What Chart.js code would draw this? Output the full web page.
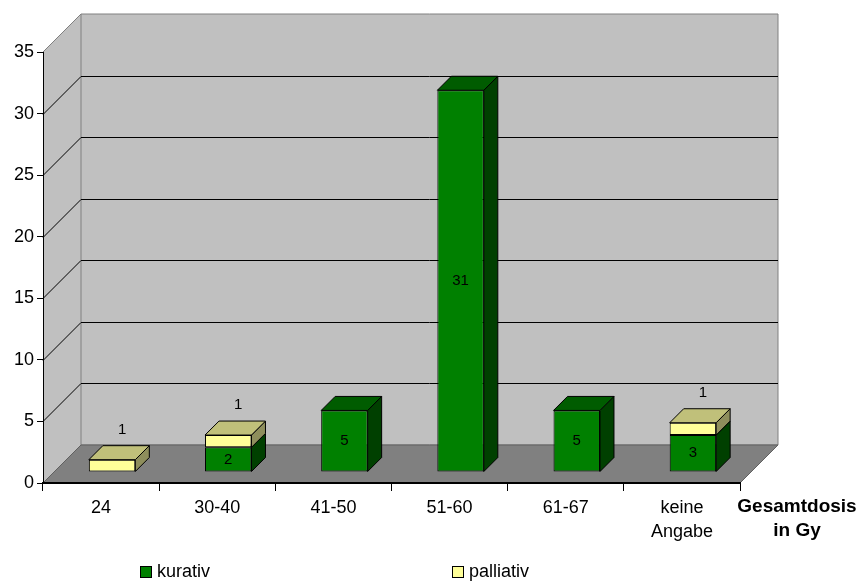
<!DOCTYPE html>
<html>
<head>
<meta charset="utf-8">
<script src="https://cdn.jsdelivr.net/npm/chart.js@4/dist/chart.umd.min.js"></script>
<style>
  html, body { margin: 0; padding: 0; background: #fff; }
  #box { width: 858px; height: 585px; }
</style>
</head>
<body>
<div id="box"><canvas id="dosisChart" width="858" height="585"></canvas></div>
<script>
var categories = ['24', '30-40', '41-50', '51-60', '61-67', ['keine', 'Angabe']];
var kurativ = [0, 2, 5, 31, 5, 3];
var palliativ = [1, 1, 0, 0, 0, 1];
var seriesNames = ['kurativ', 'palliativ'];
var yTicks = [0, 5, 10, 15, 20, 25, 30, 35];
var axisTitle = ['Gesamtdosis', 'in Gy'];

var FONT = '"Liberation Sans", Arial, sans-serif';
var WALL = 38;      // depth of the back wall
var SHIFT = 11;     // bars stand a bit behind the front edge
var BAR = 14;       // depth of a bar

var faceColors = [
  { front: '#008000', top: '#005c00', side: '#004000' },
  { front: '#ffff99', top: '#c0c07a', side: '#8e8e5c' }
];

function poly(ctx, pts, fill, stroke) {
  ctx.beginPath();
  ctx.moveTo(pts[0][0], pts[0][1]);
  for (var i = 1; i < pts.length; i++) ctx.lineTo(pts[i][0], pts[i][1]);
  ctx.closePath();
  if (fill) { ctx.fillStyle = fill; ctx.fill(); }
  if (stroke) { ctx.strokeStyle = stroke; ctx.stroke(); }
}

function line(ctx, x1, y1, x2, y2, color) {
  ctx.beginPath();
  ctx.moveTo(x1, y1);
  ctx.lineTo(x2, y2);
  ctx.strokeStyle = color;
  ctx.stroke();
}

var walls = {
  id: 'walls',
  beforeDraw: function(chart) {
    var ctx = chart.ctx, a = chart.chartArea, y = chart.scales.y;
    var top = y.getPixelForValue(yTicks[yTicks.length - 1]);
    var bot = y.getPixelForValue(0);
    ctx.save();
    ctx.lineWidth = 1;
    // side wall + back wall
    poly(ctx, [[a.left, top], [a.left + WALL, top - WALL], [a.left + WALL, bot - WALL], [a.left, bot]], '#c0c0c0');
    poly(ctx, [[a.left + WALL, top - WALL], [a.right + WALL, top - WALL], [a.right + WALL, bot - WALL], [a.left + WALL, bot - WALL]], '#c0c0c0', '#808080');
    // floor
    poly(ctx, [[a.left, bot], [a.right, bot], [a.right + WALL, bot - WALL], [a.left + WALL, bot - WALL]], '#808080', '#606060');
    line(ctx, a.left, top, a.left + WALL, top - WALL, '#808080');
    yTicks.forEach(function(v) {
      if (v === 0 || v === yTicks[yTicks.length - 1]) return;
      var p = Math.round(y.getPixelForValue(v)) + 0.5;
      line(ctx, a.left, p, a.left + WALL, p - WALL, '#000');
      line(ctx, a.left + WALL, p - WALL, a.right + WALL, p - WALL, '#000');
    });
    ctx.restore();
  },
  beforeDatasetsDraw: function(chart) {
    chart.ctx.save();
    chart.ctx.translate(SHIFT, -SHIFT);
  },
  afterDatasetsDraw: function(chart) {
    var ctx = chart.ctx;
    ctx.lineWidth = 1;
    var metas = [chart.getDatasetMeta(0), chart.getDatasetMeta(1)];
    var values = [kurativ, palliativ];
    for (var i = 0; i < categories.length; i++) {
      var topIdx = -1;
      for (var d = 0; d < 2; d++) if (values[d][i] > 0) topIdx = d;
      for (var d = 0; d < 2; d++) {
        if (!(values[d][i] > 0)) continue;
        var el = metas[d].data[i];
        var l = el.x - el.width / 2, r = el.x + el.width / 2;
        var t = el.y, b = el.base;
        poly(ctx, [[r, t], [r + BAR, t - BAR], [r + BAR, b - BAR], [r, b]], faceColors[d].side, '#000');
        if (d === topIdx) {
          poly(ctx, [[l, t], [l + BAR, t - BAR], [r + BAR, t - BAR], [r, t]], faceColors[d].top, '#000');
        }
        // value labels
        ctx.fillStyle = '#000';
        ctx.font = '15px ' + FONT;
        ctx.textAlign = 'center';
        ctx.textBaseline = 'middle';
        if (d === 0) {
          ctx.fillText(String(values[d][i]), el.x, (t + b) / 2);
        } else {
          ctx.fillText(String(values[d][i]), el.x + 10, t - 30);
        }
      }
    }
    ctx.restore();
  },
  afterDraw: function(chart) {
    var ctx = chart.ctx, a = chart.chartArea;
    ctx.save();
    // axis title beside the x axis
    ctx.fillStyle = '#000';
    ctx.font = 'bold 19px ' + FONT;
    ctx.textAlign = 'center';
    ctx.textBaseline = 'middle';
    ctx.fillText(axisTitle[0], a.right + 57, 507);
    ctx.fillText(axisTitle[1], a.right + 57, 531);
    // legend
    var legendX = [140, 452];
    ctx.font = '18px ' + FONT;
    ctx.textAlign = 'left';
    for (var d = 0; d < 2; d++) {
      ctx.fillStyle = faceColors[d].front;
      ctx.fillRect(legendX[d] + 0.5, 566.5, 11, 11);
      ctx.strokeStyle = '#000';
      ctx.lineWidth = 1;
      ctx.strokeRect(legendX[d] + 0.5, 566.5, 11, 11);
      ctx.fillStyle = '#000';
      ctx.fillText(seriesNames[d], legendX[d] + 17, 572);
    }
    ctx.restore();
  }
};

var ctx = document.getElementById('dosisChart').getContext('2d');
var myChart = new Chart(ctx, {
  type: 'bar',
  data: {
    labels: categories,
    datasets: [{
      label: seriesNames[0],
      data: kurativ,
      backgroundColor: faceColors[0].front,
      borderColor: '#000',
      borderWidth: 1,
      borderSkipped: false
    }, {
      label: seriesNames[1],
      data: palliativ,
      backgroundColor: faceColors[1].front,
      borderColor: '#000',
      borderWidth: 1,
      borderSkipped: false
    }]
  },
  options: {
    responsive: false,
    animation: false,
    categoryPercentage: 1,
    barPercentage: 0.4,
    layout: { padding: { top: 52, right: 118, left: 0, bottom: 0 } },
    plugins: {
      legend: { display: false },
      tooltip: { enabled: false }
    },
    scales: {
      x: {
        stacked: true,
        grid: { drawOnChartArea: false, offset: true, tickLength: 8, color: '#000' },
        border: { color: '#000', width: 2 },
        ticks: { color: '#000', font: { family: FONT, size: 18, lineHeight: 1.35 }, padding: 5 },
        afterFit: function(s) { s.height = 102; s.paddingLeft = 0; s.paddingRight = 0; }
      },
      y: {
        stacked: true,
        min: 0,
        max: 35,
        ticks: { stepSize: 5, color: '#000', font: { family: FONT, size: 18 }, padding: 3 },
        grid: { drawOnChartArea: false, tickLength: 6, color: '#000' },
        border: { color: '#000' },
        afterFit: function(s) { s.width = 43; s.paddingTop = 0; s.paddingBottom = 0; }
      }
    }
  },
  plugins: [walls]
});
</script>
</body>
</html>
